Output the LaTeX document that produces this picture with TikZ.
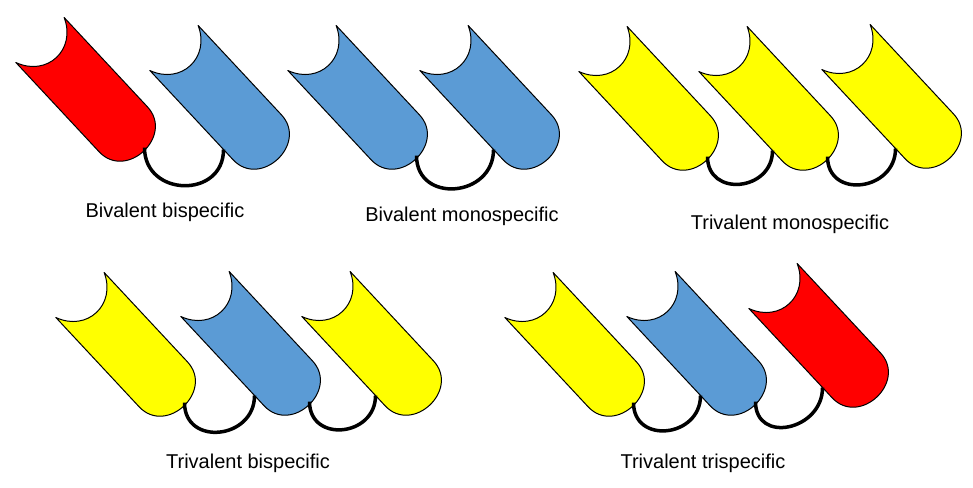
\documentclass[tikz,border=0pt]{standalone}
\usepackage{fontspec}
\setmainfont{Liberation Sans}
\definecolor{cblue}{HTML}{5B9BD5}
\definecolor{cyel}{HTML}{FFFF00}
\definecolor{cred}{HTML}{FF0000}
\begin{document}
\begin{tikzpicture}[x=1pt,y=-1pt,
  capsule/.pic={
    \path[draw=black,fill=#1,line width=1pt,line join=round]
      (0,33) -- (122,33) .. controls (162,33) and (162,-33) .. (122,-33)
      -- (0,-33) .. controls (32,-20) and (32,20) .. (0,33) -- cycle;
    \coordinate (-a) at (150,-3);
    \coordinate (-b) at (108,33);
  },
  linker/.style={line width=3.5pt,black,out=270,in=270,looseness=1.6},
  lab/.style={font=\fontsize{20}{22}\selectfont}]
\useasboundingbox (0,0) rectangle (973,487);
\path pic[rotate=-47] (r1) at (40,40) {capsule=cred}
      pic[rotate=-47] (b1) at (174,48) {capsule=cblue}
      pic[rotate=-47] (b2) at (312,48) {capsule=cblue}
      pic[rotate=-47] (b3) at (444,48) {capsule=cblue}
      pic[rotate=-47] (y1) at (603,49) {capsule=cyel}
      pic[rotate=-47] (y2) at (723,49) {capsule=cyel}
      pic[rotate=-47] (y3) at (846,47) {capsule=cyel}
      pic[rotate=-47] (p1) at (80,295) {capsule=cyel}
      pic[rotate=-47] (p2) at (205,294) {capsule=cblue}
      pic[rotate=-47] (p3) at (326,294) {capsule=cyel}
      pic[rotate=-47] (q1) at (529,295) {capsule=cyel}
      pic[rotate=-47] (q2) at (651,294) {capsule=cblue}
      pic[rotate=-47] (q3) at (773,286) {capsule=cred};
\draw[linker] (r1-a) to (b1-b);
\draw[linker] (b2-a) to (b3-b);
\draw[linker] (y1-a) to (y2-b);
\draw[linker] (y2-a) to (y3-b);
\draw[linker] (p1-a) to (p2-b);
\draw[linker] (p2-a) to (p3-b);
\draw[linker] (q1-a) to (q2-b);
\draw[linker] (q2-a) to (q3-b);
\node[lab] (t1) at (165,212) {Bivalent bispecific};
\node[lab] (t2) at (462,216) {Bivalent monospecific};
\node[lab] (t3) at (790,224) {Trivalent monospecific};
\node[lab] (t4) at (248,463) {Trivalent bispecific};
\node[lab] (t5) at (703,463) {Trivalent trispecific};
\end{tikzpicture}
\end{document}
